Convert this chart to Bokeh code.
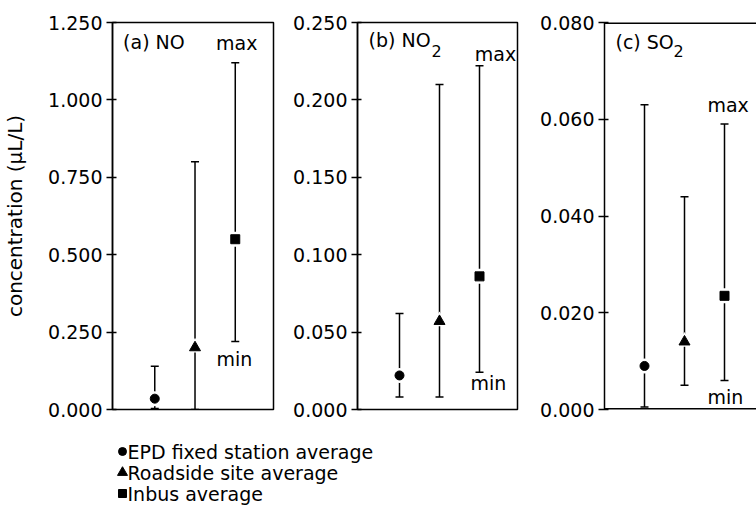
from bokeh.plotting import figure
from bokeh.models import (Range1d, FixedTicker, PrintfTickFormatter, Whisker, TeeHead,
                          ColumnDataSource, Label, Span)
from bokeh.layouts import column, row
from bokeh.embed import file_html
from bokeh.resources import INLINE
from bokeh.core.properties import value

# ---------------- data ----------------
series = ["EPD fixed station average", "Roadside site average", "Inbus average"]
markers = ["circle", "triangle", "square"]
positions = [1, 2, 3]

no_mean = [0.035, 0.20, 0.55]
no_min = [0.003, 0.0, 0.22]
no_max = [0.14, 0.80, 1.12]

no2_mean = [0.022, 0.057, 0.086]
no2_min = [0.008, 0.008, 0.024]
no2_max = [0.062, 0.210, 0.222]

so2_mean = [0.009, 0.014, 0.0235]
so2_min = [0.0005, 0.005, 0.006]
so2_max = [0.063, 0.044, 0.059]

no_ticks = [0.0, 0.25, 0.5, 0.75, 1.0, 1.25]
no2_ticks = [0.0, 0.05, 0.10, 0.15, 0.20, 0.25]
so2_ticks = [0.0, 0.02, 0.04, 0.06, 0.08]

y_label = "concentration (μL/L)"

FONT = "DejaVu Sans"
marker_sizes = [9, 11, 9]
halo_sizes = [15, 17, 15]
PANEL_H = 421


def panel(width, bl, br, xr, ymax, ticks, mean, lo, hi, outline=True, ylabel=None):
    p = figure(width=width, height=PANEL_H, x_range=Range1d(*xr), y_range=Range1d(0, ymax),
               output_backend="svg", toolbar_location=None,
               min_border_left=bl, min_border_right=br, min_border_top=22, min_border_bottom=12)
    p.xaxis.visible = False
    p.grid.visible = False
    p.background_fill_color = "white"
    p.border_fill_color = "white"
    if outline:
        p.outline_line_color = "black"
        p.outline_line_width = 1.5
        p.outline_line_alpha = 1.0
    else:
        p.outline_line_color = None
    ax = p.yaxis[0]
    ax.ticker = FixedTicker(ticks=ticks)
    ax.formatter = PrintfTickFormatter(format="%.3f")
    ax.minor_tick_line_color = None
    ax.major_tick_out = 6
    ax.major_tick_in = 4
    ax.major_tick_line_width = 1.5
    ax.major_tick_line_color = "black"
    ax.axis_line_width = 1.5
    ax.axis_line_color = "black"
    ax.major_label_text_font = FONT
    ax.major_label_text_font_size = "19px"
    ax.major_label_text_color = "black"
    ax.major_label_standoff = 4
    if ylabel:
        ax.axis_label = ylabel
        ax.axis_label_text_font = FONT
        ax.axis_label_text_font_size = "20px"
        ax.axis_label_text_font_style = "normal"
        ax.axis_label_text_color = "black"
        ax.axis_label_standoff = 18

    src = ColumnDataSource(dict(x=positions, mean=mean, lo=lo, hi=hi, marker=markers,
                                size=marker_sizes, halo=halo_sizes))
    w = Whisker(base="x", upper="hi", lower="lo", source=src, dimension="height",
                line_width=1.5, line_color="black",
                upper_head=TeeHead(size=8, line_width=1.5, line_color="black"),
                lower_head=TeeHead(size=8, line_width=1.5, line_color="black"))
    p.add_layout(w)
    p.scatter(x="x", y="mean", marker="marker", size="halo", source=src,
              fill_color="white", line_color=None)
    p.scatter(x="x", y="mean", marker="marker", size="size", source=src,
              fill_color="black", line_color="black")
    return p


def text(p, x, y, t, align="left", size="19px", xo=0, yo=0):
    p.add_layout(Label(x=x, y=y, text=t, text_font=FONT, text_font_size=size,
                       text_align=align, text_baseline="alphabetic", text_color="black",
                       x_offset=xo, y_offset=yo + 7))


pa = panel(275, 110, 2, (-0.05, 3.95), 1.25, no_ticks, no_mean, no_min, no_max, ylabel=y_label)
text(pa, 0.213, 1.164, "(a) NO")
text(pa, 3.037, 1.1605, "max", align="center")
text(pa, 2.976, 0.1418, "min", align="center")

pb = panel(244, 82, 2, (-0.05, 3.95), 0.25, no2_ticks, no2_mean, no2_min, no2_max)
text(pb, 0.225, 0.234, "(b) NO")
text(pb, 0.225, 0.234, "2", size="16px", xo=63, yo=-11)
text(pb, 3.4, 0.225, "max", align="center")
text(pb, 3.225, 0.0123, "min", align="center")

pc = panel(237, 85, 0, (0, 3.8), 0.08, so2_ticks, so2_mean, so2_min, so2_max, outline=False)
pc.add_layout(Span(location=0.08, dimension="width", line_color="black", line_width=3))
pc.add_layout(Span(location=0.0, dimension="width", line_color="black", line_width=3))
text(pc, 0.275, 0.0746, "(c) SO")
text(pc, 0.275, 0.0746, "2", size="16px", xo=58, yo=-9)
text(pc, 3.09, 0.0615, "max", align="center")
text(pc, 3.02, 0.00118, "min", align="center")

# legend (below the panels)
LEG_H = 507 - PANEL_H
leg = figure(width=756, height=LEG_H, x_range=Range1d(0, 756), y_range=Range1d(LEG_H, 0),
             output_backend="svg", toolbar_location=None, min_border=0)
leg.outline_line_color = None
leg.axis.visible = False
leg.grid.visible = False
leg_rows = [30, 51, 72]
leg_src = ColumnDataSource(dict(x=[122] * 3, tx=[127] * 3, y=leg_rows, marker=markers,
                                size=[8, 10, 8], label=series))
leg.scatter(x="x", y="y", marker="marker", size="size", source=leg_src,
            fill_color="black", line_color="black")
leg.text(x="tx", y="y", text="label", source=leg_src, text_font=value(FONT),
         text_font_size="19px", text_baseline="middle", text_color="black")

layout = column(row(pa, pb, pc), leg)
open("out.html", "w").write(file_html(layout, INLINE))
